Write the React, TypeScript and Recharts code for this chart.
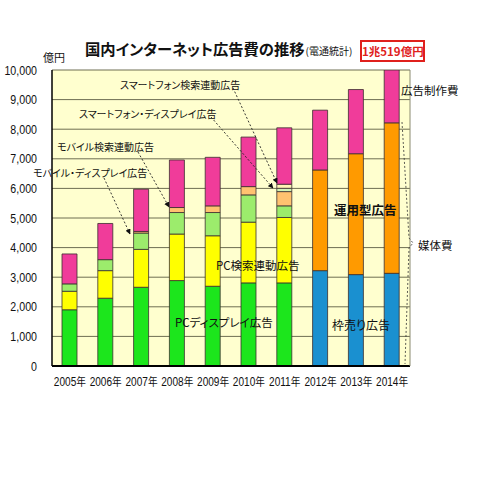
import React from "react";
import { BarChart, Bar, XAxis, YAxis, CartesianGrid } from "recharts";

const years = ["2005年", "2006年", "2007年", "2008年", "2009年", "2010年", "2011年", "2012年", "2013年", "2014年"];
// 媒体費の内訳 (億円)
const pcDisplay = [1900, 2290, 2660, 2886, 2694, 2808, 2808, 0, 0, 0];
const pcSearch = [625, 932, 1280, 1572, 1706, 2052, 2209, 0, 0, 0];
const mobileDisplay = [250, 371, 552, 727, 785, 921, 394, 0, 0, 0];
const mobileSearch = [0, 0, 53, 169, 225, 280, 481, 0, 0, 0];
const smartDisplay = [0, 0, 0, 0, 0, 0, 112, 0, 0, 0];
const smartSearch = [0, 0, 0, 0, 0, 0, 137, 0, 0, 0];
const reservation = [0, 0, 0, 0, 0, 0, 0, 3222, 3088, 3131]; // 枠売り広告
const programmatic = [0, 0, 0, 0, 0, 0, 0, 3401, 4084, 5084]; // 運用型広告
const production = [1010, 1222, 1428, 1606, 1640, 1673, 1906, 2020, 2168, 2304]; // 広告制作費
const yTicks = [0, 1000, 2000, 3000, 4000, 5000, 6000, 7000, 8000, 9000, 10000];

const data = years.map((year, i) => ({
  year,
  pcDisplay: pcDisplay[i],
  pcSearch: pcSearch[i],
  mobileDisplay: mobileDisplay[i],
  mobileSearch: mobileSearch[i],
  smartDisplay: smartDisplay[i],
  smartSearch: smartSearch[i],
  reservation: reservation[i],
  programmatic: programmatic[i],
  production: production[i],
}));

const series = [
  { key: "pcDisplay", color: "#1ce61c" },
  { key: "pcSearch", color: "#ffff00" },
  { key: "mobileDisplay", color: "#9cec6c" },
  { key: "mobileSearch", color: "#ffc270" },
  { key: "smartDisplay", color: "#d2f5b8" },
  { key: "smartSearch", color: "#fff4b4" },
  { key: "reservation", color: "#1a90d0" },
  { key: "programmatic", color: "#ff9a00" },
  { key: "production", color: "#f03c9a" },
];

const jp = "'Noto Sans CJK JP', sans-serif";
const sans = "'Liberation Sans', Arial, sans-serif";
const palt = { fontFeatureSettings: "'palt'" } as React.CSSProperties;

// narrow-looking tick labels (the original uses a condensed face)
function XTick({ x, y, payload }: any) {
  return (
    <g transform={`translate(${x},${y + 12})`}>
      <text transform="scale(0.84,1)" textAnchor="middle" fontSize={12} fontFamily={sans} fill="#111">
        {String(payload.value).replace("年", "")}
        <tspan fontFamily={jp} fontSize={11.5}>年</tspan>
      </text>
    </g>
  );
}

function YTick({ x, y, payload }: any) {
  return (
    <g transform={`translate(${x - 7},${y + 4.5})`}>
      <text transform="scale(0.82,1)" textAnchor="end" fontSize={13} fontFamily={sans} fill="#111">
        {Number(payload.value).toLocaleString("en-US")}
      </text>
    </g>
  );
}

function Notes() {
  const t = (x: number, y: number, s: string, size = 10, extra: any = {}) => (
    <text x={x} y={y} fontSize={size} fontFamily={jp} fill="#111" dominantBaseline="central" style={palt} {...extra}>
      {s}
    </text>
  );
  const dash = { stroke: "#222", strokeWidth: 0.9, strokeDasharray: "2 2", fill: "none", markerEnd: "url(#ah)" };
  return (
    <svg width={480} height={480} style={{ position: "absolute", left: 0, top: 0, pointerEvents: "none" }}>
      <defs>
        <marker id="ah" viewBox="0 0 10 10" refX="9" refY="5" markerWidth="6" markerHeight="6" orient="auto">
          <path d="M0,0 L10,5 L0,10 z" fill="#111" />
        </marker>
      </defs>
      {t(120, 84, "スマートフォン検索連動広告")}
      {t(79, 113, "スマートフォン・ディスプレイ広告")}
      {t(57, 146, "モバイル検索連動広告")}
      {t(33, 172, "モバイル・ディスプレイ広告")}
      <line x1={233} y1={88} x2={277} y2={183} {...dash} />
      <line x1={211} y1={117} x2={273} y2={188} {...dash} />
      <line x1={138} y1={152} x2={169} y2={207} {...dash} />
      <line x1={104} y1={178} x2={130} y2={234} {...dash} />
      {t(216, 265, "PC検索連動広告", 11.5)}
      {t(175, 322, "PCディスプレイ広告", 11.5)}
      {t(334, 209, "運用型広告", 12.5, { fontWeight: 700 })}
      {t(332, 324, "枠売り広告", 12)}
      {t(401, 90, "広告制作費", 11.5)}
      {t(418, 245, "媒体費", 11.5)}
      <polyline
        points="402,122 409,238 413,243 409,248 405,364"
        stroke="#333"
        strokeWidth={0.8}
        strokeDasharray="2 2"
        fill="none"
      />
    </svg>
  );
}

export default function App() {
  return (
    <div style={{ position: "absolute", left: 0, top: 0, width: 480, height: 480, background: "#fff", overflow: "hidden" }}>
      <div
        style={{
          position: "absolute", left: 85, top: 37, fontFamily: jp, fontSize: 15.3, fontWeight: 700,
          color: "#111", whiteSpace: "nowrap", lineHeight: "22px", ...palt,
        }}
      >
        国内インターネット広告費の推移
        <span style={{ fontSize: 10, fontWeight: 400, marginLeft: 1 }}>(電通統計)</span>
      </div>
      <div
        style={{
          position: "absolute", left: 360, top: 40, width: 61, height: 18, border: "2px solid #e0201c",
          color: "#e0201c", fontFamily: jp, fontSize: 11.5, fontWeight: 700, lineHeight: "18px",
          textAlign: "center", whiteSpace: "nowrap", ...palt,
        }}
      >
        1兆519億円
      </div>
      <div style={{ position: "absolute", left: 43, top: 49, fontFamily: jp, fontSize: 11, color: "#111" }}>億円</div>
      <BarChart width={480} height={480} data={data} margin={{ top: 70, right: 69, left: 0, bottom: 84 }} barSize={15}>
        <CartesianGrid vertical={false} fill="#ffffcf" stroke="#6e6e52" strokeWidth={1} />
        <XAxis
          dataKey="year"
          height={30}
          tickLine={false}
          axisLine={{ stroke: "#000", strokeWidth: 2 }}
          tick={<XTick />}
          interval={0}
        />
        <YAxis
          width={52}
          domain={[0, 10000]}
          ticks={yTicks}
          allowDataOverflow
          tickLine={false}
          axisLine={{ stroke: "#000", strokeWidth: 1.5 }}
          tick={<YTick />}
        />
        <YAxis yAxisId="right" orientation="right" width={1} domain={[0, 10000]} tick={false} tickLine={false} axisLine={{ stroke: "#8a8a70" }} />
        {series.map((s) => (
          <Bar key={s.key} dataKey={s.key} stackId="a" fill={s.color} stroke="#3a2f2f" strokeWidth={0.8} isAnimationActive={false} />
        ))}
      </BarChart>
      <Notes />
    </div>
  );
}
